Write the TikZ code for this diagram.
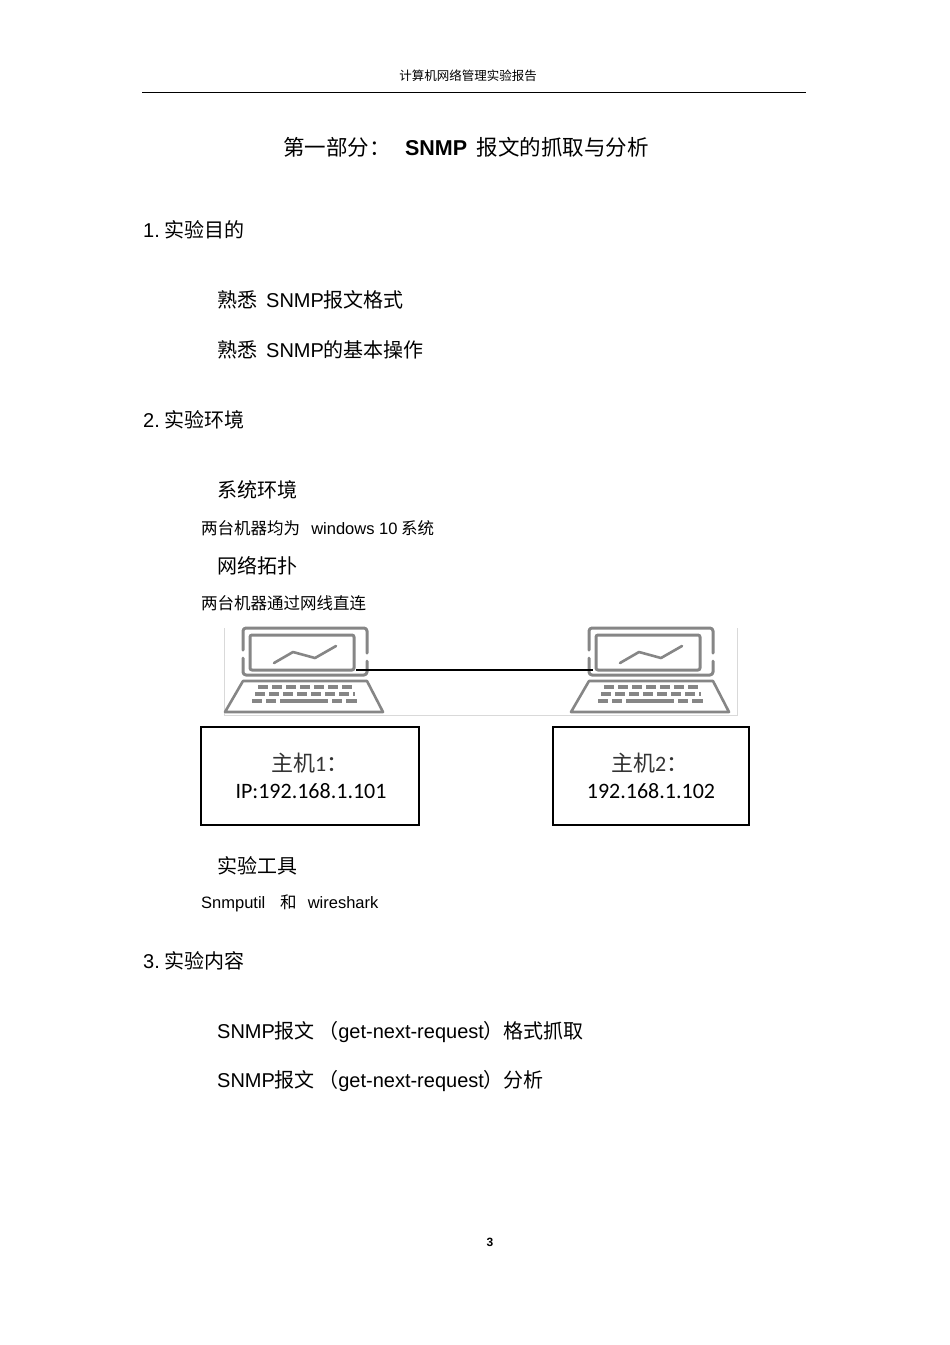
\documentclass[tikz,border=0pt]{standalone}
\usepackage{fontspec}
\setmainfont{Noto Sans CJK SC}
\newfontfamily\latinf{Liberation Sans}
\newfontfamily\calf{Carlito}
\begin{document}
\begin{tikzpicture}[x=1pt,y=-1pt,
  txt/.style={anchor=west,inner sep=0pt,font=\fontsize{20}{20}\selectfont},
  small/.style={anchor=west,inner sep=0pt,font=\fontsize{16.5}{17}\selectfont},
  lap/.style={draw=gray!95,line width=3pt,line cap=round,line join=round},
  hostbox/.style={draw,line width=1.6pt,minimum height=98pt,inner sep=0pt}]
\useasboundingbox[fill=white] (0,0) rectangle (950,1345);
\node[inner sep=0pt,font=\fontsize{12.5}{12}\selectfont] (hdr) at (468,76) {计算机网络管理实验报告};
\draw[line width=0.8pt] (142,92) -- (806,92);
\node[inner sep=0pt,font=\fontsize{21.5}{21}\selectfont] (title) at (466,147) {第一部分：\ \ \ {\latinf\bfseries SNMP}\ \ 报文的抓取与分析};
\node[txt] (s1) at (143,230) {{\latinf 1.}\ 实验目的};
\node[txt] (a1) at (217,300) {熟悉\ \ {\latinf SNMP}报文格式};
\node[txt] (a2) at (217,350) {熟悉\ \ {\latinf SNMP}的基本操作};
\node[txt] (s2) at (143,420) {{\latinf 2.}\ 实验环境};
\node[txt] (b1) at (217,490) {系统环境};
\node[small] (b1t) at (201,528) {两台机器均为\ \ \ {\latinf windows 10} 系统};
\node[txt] (b2) at (217,566) {网络拓扑};
\node[small] (b2t) at (201,603) {两台机器通过网线直连};
\node[txt] (b3) at (217,866) {实验工具};
\node[small] (b3t) at (201,903) {{\latinf Snmputil}\ \ \ \ 和\ \ \ {\latinf wireshark}};
\node[txt] (s3) at (143,961) {{\latinf 3.}\ 实验内容};
\node[txt] (c1) at (217,1032) {{\latinf SNMP}报文\,（{\latinf get-next-request}）格式抓取};
\node[txt] (c2) at (217,1081) {{\latinf SNMP}报文\,（{\latinf get-next-request}）分析};
\node[inner sep=0pt,font=\latinf\bfseries\fontsize{12}{12}\selectfont] (pg) at (490,1242) {3};
\draw[gray!30,line width=0.6pt] (224,628) -- (224,715) -- (737,715) -- (737,628);
\foreach \dx in {0,346}{
\begin{scope}[xshift=\dx pt]
\draw[lap,rounded corners=3pt] (243,650) -- (243,628) -- (367,628) -- (367,653);
\draw[lap,rounded corners=3pt] (367,661) -- (367,675) -- (243,675) -- (243,658);
\draw[lap,rounded corners=2pt] (250,635) rectangle (354,670);
\draw[lap,line width=2.6pt] (274,663) -- (293,652) -- (315,658) -- (336,646);
\draw[lap,line width=2.6pt] (243,681) -- (367,681) -- (383,712) -- (225,712) -- cycle;
\draw[lap,line width=3.5pt,line cap=butt,dash pattern=on 10pt off 4pt] (258,687) -- (352,687);
\draw[lap,line width=3.5pt,line cap=butt,dash pattern=on 10pt off 4pt] (255,694) -- (355,694);
\draw[lap,line width=3.5pt,line cap=butt] (252,701) -- (262,701) (266,701) -- (276,701) (280,701) -- (328,701) (332,701) -- (342,701) (346,701) -- (357,701);
\end{scope}}
\coordinate (p1) at (356,670);
\coordinate (p2) at (593,670);
\draw[line width=1.4pt] (p1) -- (p2);
\node[hostbox,minimum width=218pt] (h1) at (310,776) {};
\node[hostbox,minimum width=196pt] (h2) at (651,776) {};
\node[anchor=west,inner sep=0pt,font=\fontsize{22}{22}\selectfont\color{black!80}] (h1a) at (271,763) {主机{\calf 1}：};
\node[inner sep=0pt,font=\calf\fontsize{22}{22}\selectfont] (h1b) at (311,791) {IP:192.168.1.101};
\node[anchor=west,inner sep=0pt,font=\fontsize{22}{22}\selectfont\color{black!80}] (h2a) at (611,763) {主机{\calf 2}：};
\node[inner sep=0pt,font=\calf\fontsize{22}{22}\selectfont] (h2b) at (651,791) {192.168.1.102};
\end{tikzpicture}
\end{document}
